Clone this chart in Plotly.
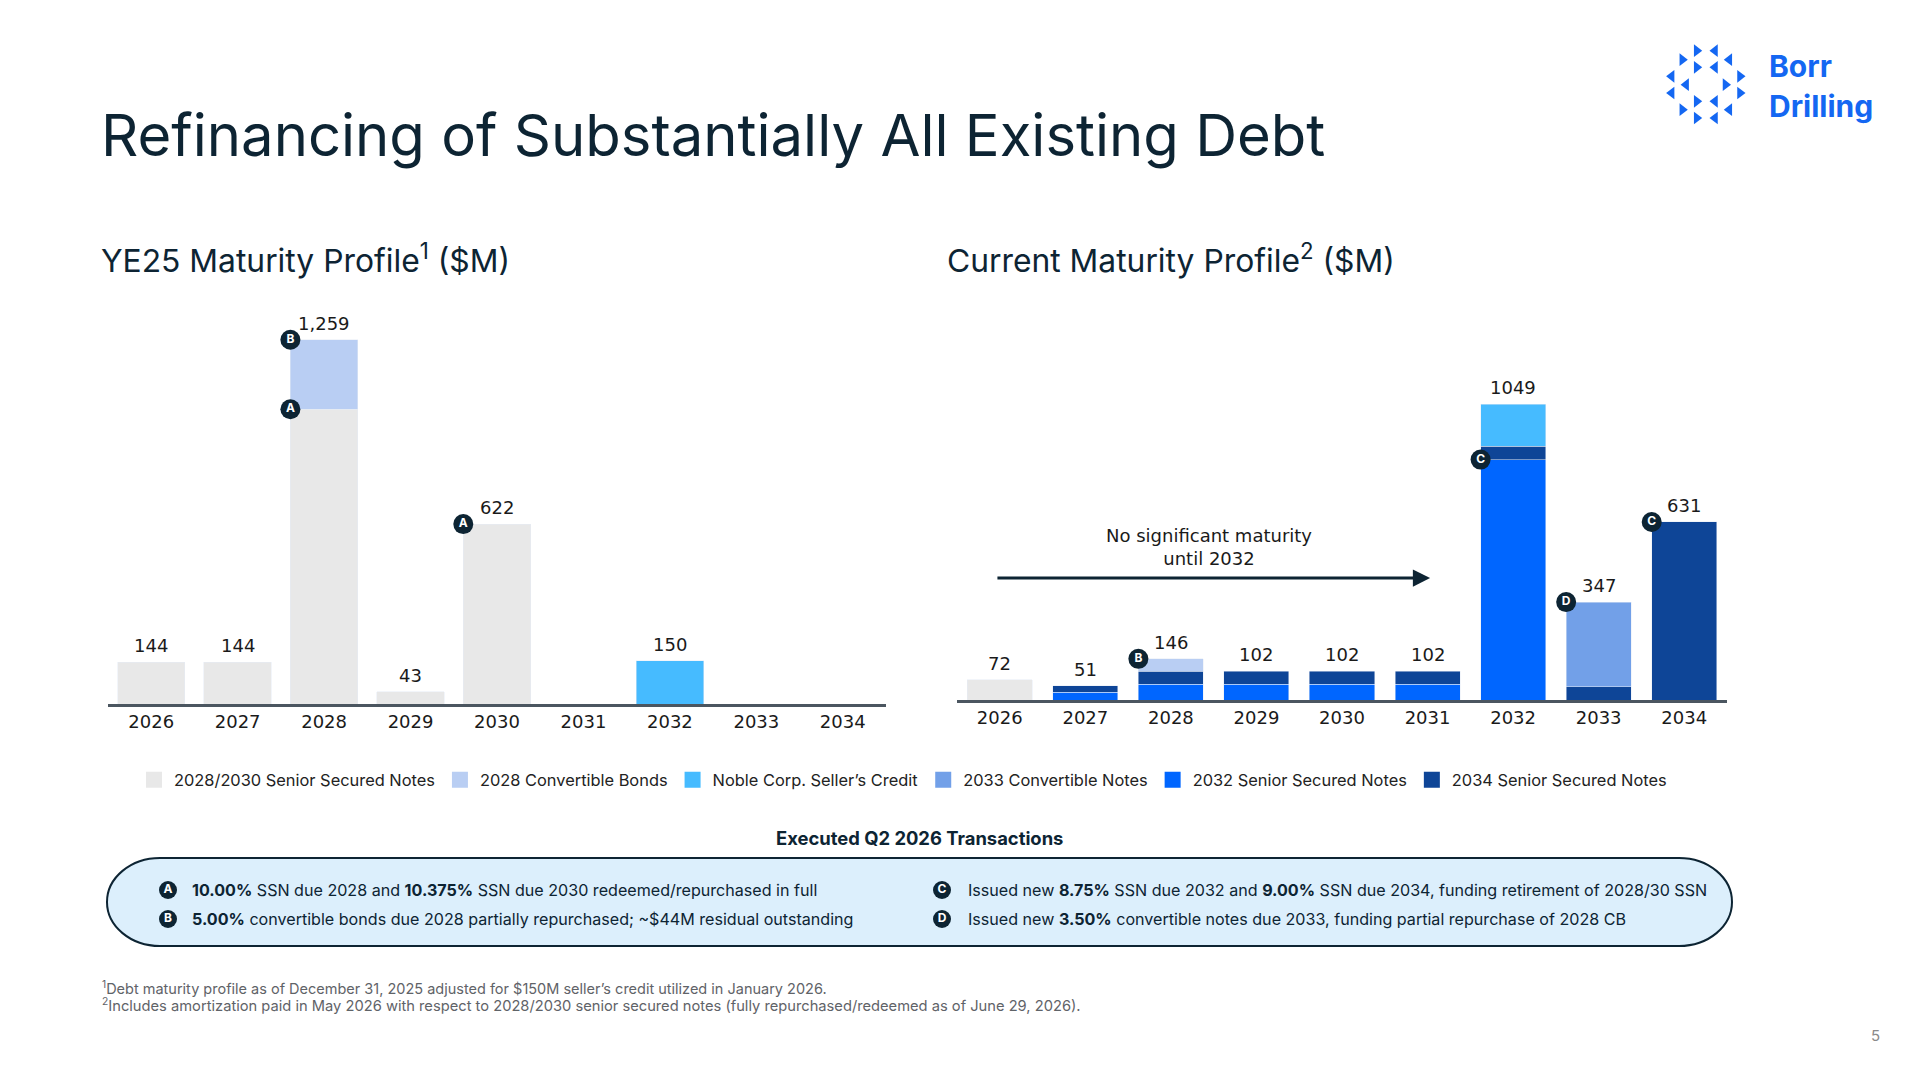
import plotly.graph_objects as go

# page is drawn inside the browser body (8px margin), so the figure is 8px smaller
OFF = 8
FW, FH = 1919 - OFF, 1076 - OFF

# ---- data ($M) ----
years = ["2026", "2027", "2028", "2029", "2030", "2031", "2032", "2033", "2034"]

# YE25 maturity profile
ye25_ssn_2830 = [144, 144, 1019, 43, 622, None, None, None, None]
ye25_cb_2028 = [None, None, 240, None, None, None, None, None, None]
ye25_noble = [None, None, None, None, None, None, 150, None, None]

# current maturity profile
cur_ssn_2830 = [72, None, None, None, None, None, None, None, None]
cur_ssn_2032 = [None, 28, 55, 55, 55, 55, 852, None, None]
cur_ssn_2034 = [None, 23, 47, 47, 47, 47, 47, 47, 631]
cur_cb_2028 = [None, None, 44, None, None, None, None, None, None]
cur_cn_2033 = [None, None, None, None, None, None, None, 300, None]
cur_noble = [None, None, None, None, None, None, 150, None, None]

names = {
    "ssn2830": "2028/2030 Senior Secured Notes",
    "cb2028": "2028 Convertible Bonds",
    "noble": "Noble Corp. Seller\u2019s Credit",
    "cn2033": "2033 Convertible Notes",
    "ssn2032": "2032 Senior Secured Notes",
    "ssn2034": "2034 Senior Secured Notes",
}
colors = {
    "ssn2830": "#E8E8E8",
    "cb2028": "#B9CEF3",
    "noble": "#46BBFF",
    "cn2033": "#72A0E8",
    "ssn2032": "#0066FF",
    "ssn2034": "#0E4597",
}

NAVY = "#0D2433"
TXT = "#1A1A1A"
BLUE_LOGO = "#1467F2"
BAR_W_L = 0.78
BAR_W_R = 0.76


def dx(x):
    return (x - OFF) / FW


def dy(y):
    return 1 - (y - OFF) / FH


def stack_total(*series):
    return [sum(v or 0 for v in vals) for vals in zip(*series)]


fig = go.Figure()
xs = list(range(len(years)))

# left chart
for key, vals in [("ssn2830", ye25_ssn_2830), ("cb2028", ye25_cb_2028), ("noble", ye25_noble)]:
    fig.add_trace(go.Bar(x=xs, y=vals, width=BAR_W_L, marker_color=colors[key], name=names[key],
                         showlegend=False, xaxis="x", yaxis="y", hoverinfo="skip"))

# right chart
for key, vals in [("ssn2830", cur_ssn_2830), ("ssn2032", cur_ssn_2032), ("ssn2034", cur_ssn_2034),
                  ("cb2028", cur_cb_2028), ("cn2033", cur_cn_2033), ("noble", cur_noble)]:
    fig.add_trace(go.Bar(x=xs, y=vals, width=BAR_W_R, marker_color=colors[key], name=names[key],
                         showlegend=False, xaxis="x2", yaxis="y2", hoverinfo="skip"))

# legend swatches
for key in ["ssn2830", "cb2028", "noble", "cn2033", "ssn2032", "ssn2034"]:
    fig.add_trace(go.Scatter(x=[None], y=[None], mode="markers", name=names[key],
                             marker=dict(symbol="square", size=16, color=colors[key]),
                             xaxis="x2", yaxis="y2"))

ye25_total = stack_total(ye25_ssn_2830, ye25_cb_2028, ye25_noble)
cur_total = stack_total(cur_ssn_2830, cur_ssn_2032, cur_ssn_2034, cur_cb_2028, cur_cn_2033, cur_noble)

ann = []
shapes = []

# total labels
for i, t in enumerate(ye25_total):
    if t:
        ann.append(dict(x=i, y=t, xref="x", yref="y", text=f"{t:,}", showarrow=False,
                        xanchor="center", yanchor="bottom", yshift=4,
                        font=dict(family="DejaVu Sans", size=18, color=TXT)))
for i, t in enumerate(cur_total):
    if t:
        ann.append(dict(x=i, y=t, xref="x2", yref="y2", text=str(t), showarrow=False,
                        xanchor="center", yanchor="bottom", yshift=4,
                        font=dict(family="DejaVu Sans", size=18, color=TXT)))


def badges(letters, bx, by, xa, ya, size):
    fig.add_trace(go.Scatter(x=bx, y=by, mode="markers+text", text=[f"<b>{c}</b>" for c in letters],
                             textposition="middle center",
                             textfont=dict(family="Inter", size=12, color="white"),
                             marker=dict(size=size, color=NAVY), cliponaxis=False,
                             xaxis=xa, yaxis=ya, showlegend=False, hoverinfo="skip"))


i28, i30, i32, i33, i34 = (years.index(y) for y in ["2028", "2030", "2032", "2033", "2034"])
badges(["B", "A", "A"],
       [i28 - BAR_W_L / 2, i28 - BAR_W_L / 2, i30 - BAR_W_L / 2],
       [ye25_total[i28], ye25_ssn_2830[i28], ye25_ssn_2830[i30]], "x", "y", 20)
badges(["B", "C", "D", "C"],
       [i28 - BAR_W_R / 2, i32 - BAR_W_R / 2, i33 - BAR_W_R / 2, i34 - BAR_W_R / 2],
       [cur_total[i28], cur_ssn_2032[i32], cur_total[i33], cur_total[i34]], "x2", "y2", 20)

# arrow + note on right chart
ann.append(dict(x=5.03, y=432, ax=-0.045, ay=432, xref="x2", yref="y2", axref="x2", ayref="y2",
                text="", showarrow=True, arrowhead=2, arrowsize=1.15, arrowwidth=3, arrowcolor=NAVY))
ann.append(dict(x=2.445, y=542, xref="x2", yref="y2", showarrow=False, xanchor="center",
                text="No significant maturity<br>until 2032",
                font=dict(family="DejaVu Sans", size=18, color=TXT)))


# page-level texts, placed on a pixel overlay axis (x3/y3)
def label(x, y, text, size, color=NAVY, anchor="left", family="Inter"):
    ann.append(dict(x=x, y=y, xref="x3", yref="y3", xanchor=anchor, yanchor="middle",
                    text=text, showarrow=False, font=dict(family=family, size=size, color=color)))


label(99, 135, "Refinancing of Substantially All Existing Debt", 58)
label(99, 258, "YE25 Maturity Profile<sup>1</sup> ($M)", 31.8)
label(945, 258, "Current Maturity Profile<sup>2</sup> ($M)", 31.8)
label(1767, 66, "<b>Borr</b>", 30, BLUE_LOGO)
label(1767, 106, "<b>Drilling</b>", 30, BLUE_LOGO)
label(919, 838, "<b>Executed Q2 2026 Transactions</b>", 18.4, anchor="center")
label(100, 987, "<sup>1</sup>Debt maturity profile as of December 31, 2025 adjusted for $150M seller\u2019s credit utilized in January 2026.",
      14.5, "#5F6368")
label(100, 1005, "<sup>2</sup>Includes amortization paid in May 2026 with respect to 2028/2030 senior secured notes (fully repurchased/redeemed as of June 29, 2026).",
      14.7, "#5F6368")
label(1882, 1035, "5", 15, "#8A8A8A", anchor="right")

# transactions box (stadium outline)
bx0, bx1, by0, by1 = 107, 1732, 858, 946
rx, ry = 53, (by1 - by0) / 2
ym = (by0 + by1) / 2
k = 0.5523
path = (f"M{bx0 + rx},{by0} L{bx1 - rx},{by0} "
        f"C{bx1 - rx + k * rx},{by0} {bx1},{ym - k * ry} {bx1},{ym} "
        f"C{bx1},{ym + k * ry} {bx1 - rx + k * rx},{by1} {bx1 - rx},{by1} "
        f"L{bx0 + rx},{by1} "
        f"C{bx0 + rx - k * rx},{by1} {bx0},{ym + k * ry} {bx0},{ym} "
        f"C{bx0},{ym - k * ry} {bx0 + rx - k * rx},{by0} {bx0 + rx},{by0} Z")
shapes.append(dict(type="path", xref="x3", yref="y3", path=path,
                   fillcolor="#DCEFFC", line=dict(color=NAVY, width=2), layer="below"))

notes = [
    ("A", 168, 190, 890, "<b>10.00%</b> SSN due 2028 and <b>10.375%</b> SSN due 2030 redeemed/repurchased in full"),
    ("B", 168, 190, 919, "<b>5.00%</b> convertible bonds due 2028 partially repurchased; ~$44M residual outstanding"),
    ("C", 942, 966, 890, "Issued new <b>8.75%</b> SSN due 2032 and <b>9.00%</b> SSN due 2034, funding retirement of 2028/30 SSN"),
    ("D", 942, 966, 919, "Issued new <b>3.50%</b> convertible notes due 2033, funding partial repurchase of 2028 CB"),
]
for _, _, tx, ty, txt in notes:
    label(tx, ty, txt, 16.1)
badges([n[0] for n in notes], [n[1] for n in notes], [n[3] for n in notes], "x3", "y3", 18)

# logo marks (decorative)
logo_x = [1696.7, 1715, 1682.3, 1729.3, 1696.7, 1715, 1671.6, 1740, 1686.1, 1725.5,
          1671.6, 1740, 1696.7, 1715, 1682.3, 1729.3, 1696.7, 1715]
logo_y = [50.7, 50.7, 59.7, 59.7, 67.3, 67.3, 76.3, 76.3, 84.7, 84.7,
          93, 93, 101.3, 101.3, 109.7, 109.7, 118, 118]
logo_sym = ["triangle-right", "triangle-left", "triangle-right", "triangle-left",
            "triangle-right", "triangle-left", "triangle-left", "triangle-right",
            "triangle-left", "triangle-right", "triangle-left", "triangle-right",
            "triangle-right", "triangle-left", "triangle-right", "triangle-left",
            "triangle-right", "triangle-left"]
fig.add_trace(go.Scatter(x=logo_x, y=logo_y, mode="markers",
                         marker=dict(symbol=logo_sym, size=11, color=BLUE_LOGO),
                         xaxis="x3", yaxis="y3", showlegend=False, hoverinfo="skip", cliponaxis=False))

axis_common = dict(tickmode="array", tickvals=xs, ticktext=years, range=[-0.5, 8.5],
                   showgrid=False, zeroline=False, showline=True, linecolor="#4B5660", linewidth=2.5,
                   ticks="", tickfont=dict(family="DejaVu Sans", size=18, color=TXT), fixedrange=True)
yaxis_common = dict(range=[0, 1400], visible=False, fixedrange=True)

fig.update_layout(
    width=FW, height=FH,
    margin=dict(l=0, r=0, t=0, b=0),
    paper_bgcolor="white", plot_bgcolor="rgba(0,0,0,0)",
    barmode="stack",
    xaxis=dict(domain=[dx(108), dx(886)], anchor="y", **axis_common),
    yaxis=dict(domain=[dy(704), dy(299)], anchor="x", **yaxis_common),
    xaxis2=dict(domain=[dx(957), dx(1727)], anchor="y2", **axis_common),
    yaxis2=dict(domain=[dy(700), dy(305)], anchor="x2", **yaxis_common),
    xaxis3=dict(domain=[0, 1], range=[OFF, OFF + FW], visible=False, anchor="y3", fixedrange=True),
    yaxis3=dict(domain=[0, 1], range=[OFF + FH, OFF], visible=False, anchor="x3", fixedrange=True),
    legend=dict(orientation="h", x=dx(903), xanchor="center", y=dy(780), yanchor="middle",
                font=dict(family="Inter", size=16.4, color="#222222"), traceorder="normal",
                bgcolor="rgba(0,0,0,0)", itemsizing="trace"),
    annotations=ann,
    shapes=shapes,
    showlegend=True,
)

fig.write_html("out.html")
